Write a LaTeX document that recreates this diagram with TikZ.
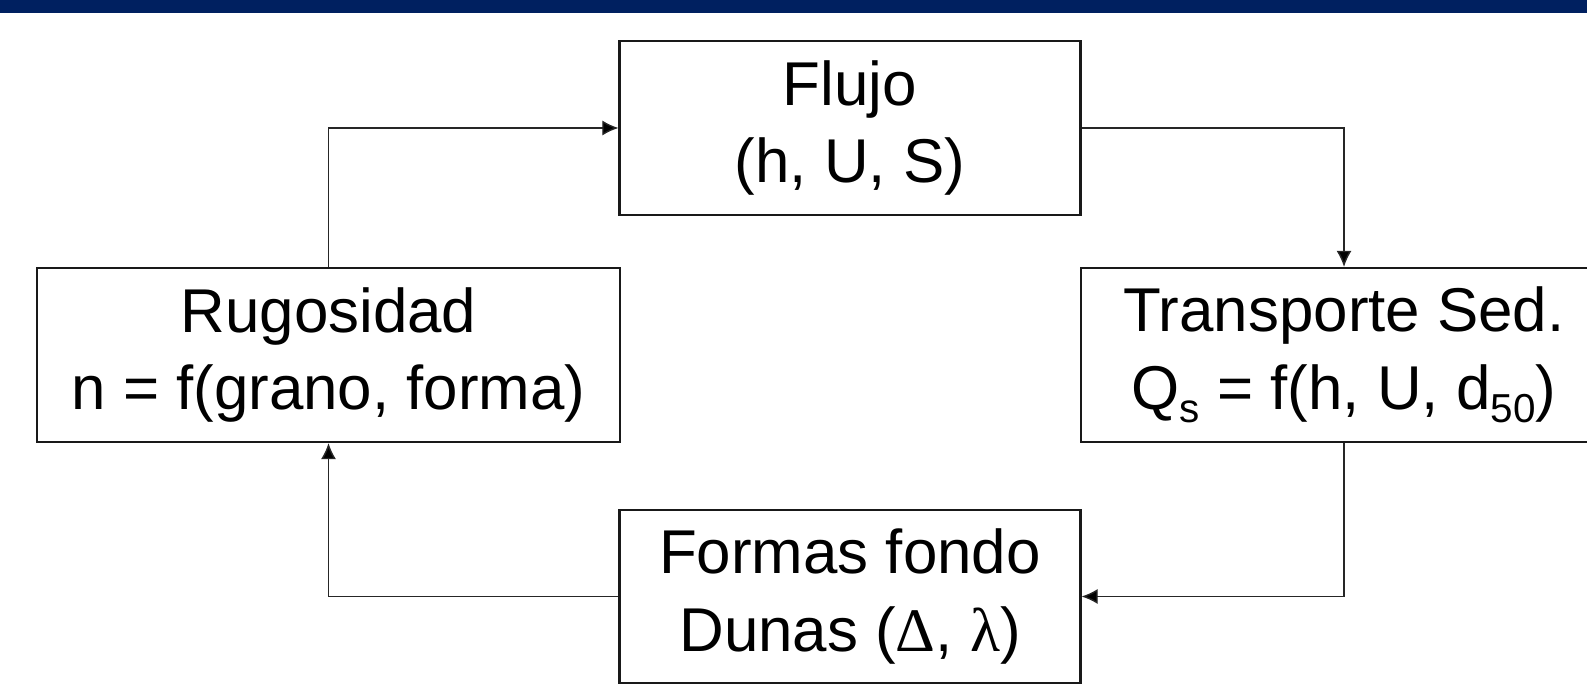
\documentclass[tikz,border=0pt]{standalone}
\usepackage{fontspec}
\setmainfont{Liberation Sans}
\newfontfamily\griego{Liberation Serif}
\usetikzlibrary{arrows.meta}
\definecolor{barblue}{RGB}{0,32,96}
\newcommand{\subi}[1]{\raisebox{-0.42ex}{\fontsize{11.5}{11.5}\selectfont #1}}
\tikzset{
  bloque/.style={draw=black!90, line width=0.6pt, minimum height=17.4mm, align=center,
    inner sep=0pt, font=\fontsize{17.6}{22}\selectfont},
  flecha/.style={draw=black!85, line width=0.4pt, -{Latex[length=4.6pt,width=4.3pt,fill=black]}}
}
\begin{document}
\begin{tikzpicture}[x=0.1mm, y=-0.1mm]
   \useasboundingbox (0,0) rectangle (1587,690);
   \clip (0,0) rectangle (1587,690);
   \fill[barblue] (0,0) rectangle (1587,13);
   \node[bloque, minimum width=46.1mm] (flujo) at (850,128) {Flujo\\(h, U, S)};
   \node[bloque, minimum width=58.3mm] (rug) at (328.5,355) {Rugosidad\\n = f(grano, forma)};
   \node[bloque, minimum width=52.6mm] (trans) at (1344,355) {Transporte Sed.\\Q\subi{s} = f(h, U, d\subi{50})};
   \node[bloque, minimum width=46.1mm, minimum height=17.3mm] (formas) at (850,596.5) {Formas fondo\\Dunas ({\griego Δ}, {\griego λ})};
   \draw[flecha] (flujo.east) -| (trans.north);
   \draw[flecha] (trans.south) |- (formas.east);
   \draw[flecha] (formas.west) -| (rug.south);
   \draw[flecha] (rug.north) |- (flujo.west);
\end{tikzpicture}
\end{document}
